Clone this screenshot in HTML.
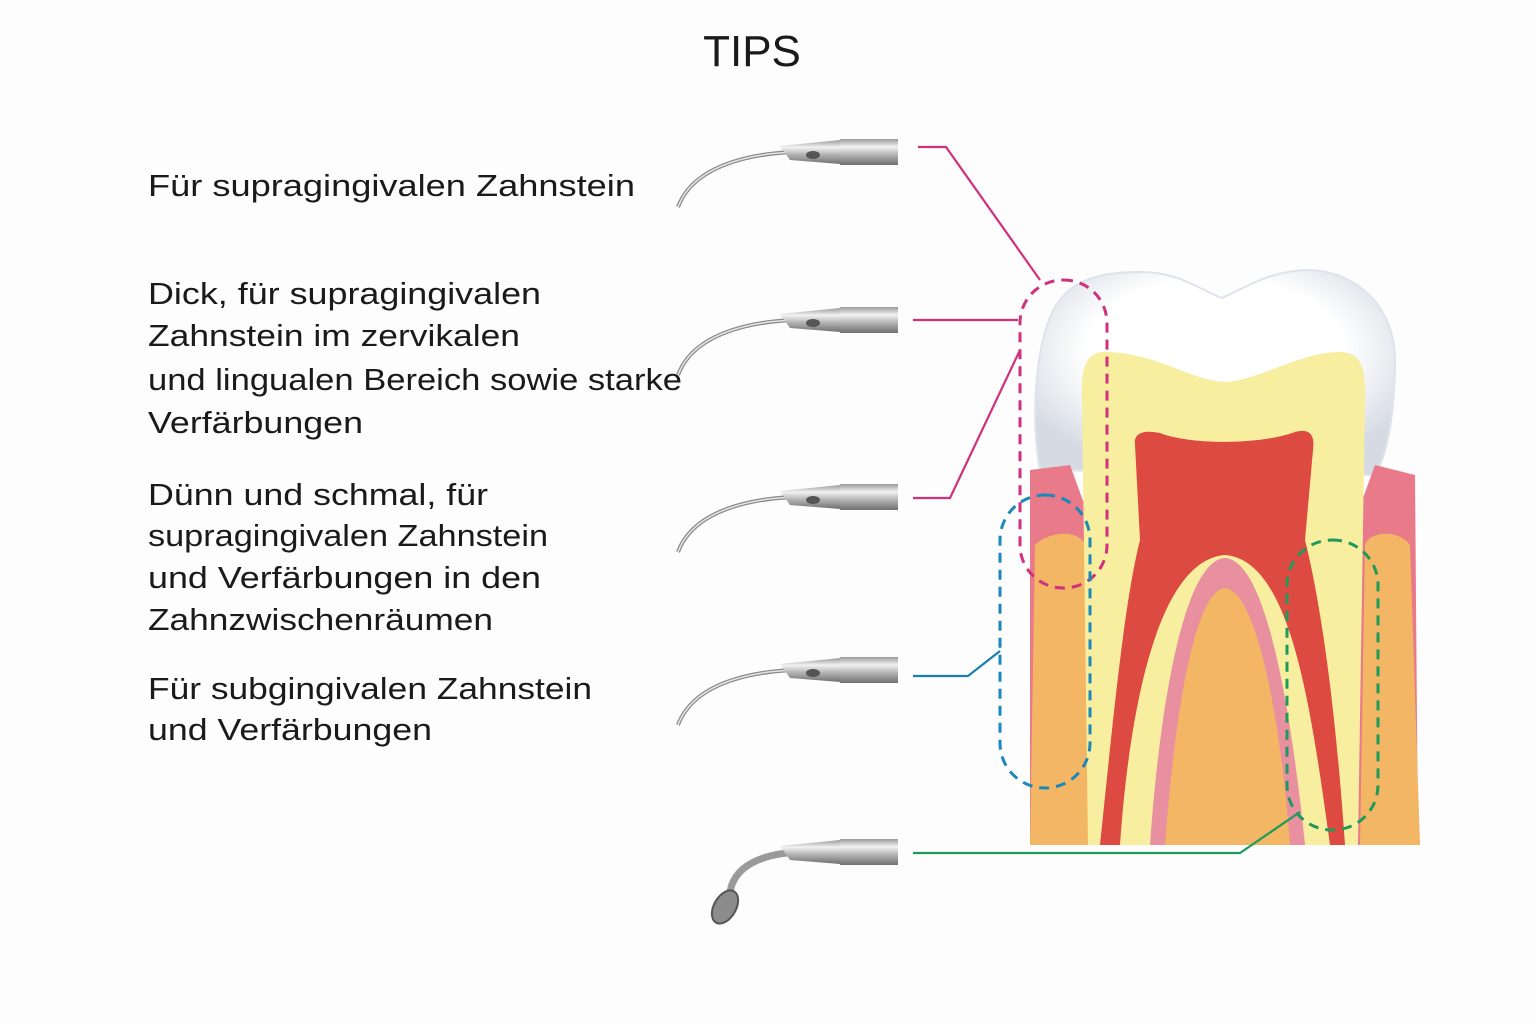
<!DOCTYPE html>
<html><head><meta charset="utf-8"><style>
html,body{margin:0;padding:0;background:#fdfdfd;}
svg{display:block}
text{font-family:"Liberation Sans",sans-serif;fill:#1a1a1a}
</style></head><body>
<svg width="1536" height="1024" viewBox="0 0 1536 1024" xmlns="http://www.w3.org/2000/svg">
<defs>
<linearGradient id="met" x1="0" y1="0" x2="0" y2="1">
<stop offset="0" stop-color="#9a9a9a"/><stop offset="0.3" stop-color="#f2f2f2"/><stop offset="0.6" stop-color="#b5b5b5"/><stop offset="1" stop-color="#707070"/></linearGradient>
<radialGradient id="enam" cx="0.5" cy="0.4" r="0.6"><stop offset="0.6" stop-color="#ffffff"/><stop offset="1" stop-color="#d5dae3"/></radialGradient>
<g id="tip">
<path d="M0,0 C-60,-2 -125,10 -142,55" fill="none" stroke="#8a8a8a" stroke-width="4"/>
<path d="M0,0 C-60,-2 -125,10 -142,55" fill="none" stroke="#e5e5e5" stroke-width="1.5"/>
<path d="M-40,-6 L20,-12 L20,12 L-30,8 Z" fill="url(#met)"/>
<ellipse cx="-7" cy="3" rx="7" ry="4" fill="#555"/>
<rect x="20" y="-13" width="58" height="26" fill="url(#met)"/>
</g>
</defs>
<rect width="1536" height="1024" fill="#fdfdfd"/>
<text x="752" y="66" font-size="44" text-anchor="middle">TIPS</text>
<g font-size="31" lengthAdjust="spacingAndGlyphs">
<text x="148" y="196" textLength="487" lengthAdjust="spacingAndGlyphs">Für supragingivalen Zahnstein</text>
<text x="148" y="304" textLength="393" lengthAdjust="spacingAndGlyphs">Dick, für supragingivalen</text>
<text x="148" y="346" textLength="372" lengthAdjust="spacingAndGlyphs">Zahnstein im zervikalen</text>
<text x="148" y="390" textLength="534" lengthAdjust="spacingAndGlyphs">und lingualen Bereich sowie starke</text>
<text x="148" y="433" textLength="215" lengthAdjust="spacingAndGlyphs">Verfärbungen</text>
<text x="148" y="505" textLength="340" lengthAdjust="spacingAndGlyphs">Dünn und schmal, für</text>
<text x="148" y="546" textLength="400" lengthAdjust="spacingAndGlyphs">supragingivalen Zahnstein</text>
<text x="148" y="588" textLength="393" lengthAdjust="spacingAndGlyphs">und Verfärbungen in den</text>
<text x="148" y="630" textLength="345" lengthAdjust="spacingAndGlyphs">Zahnzwischenräumen</text>
<text x="148" y="699" textLength="444" lengthAdjust="spacingAndGlyphs">Für subgingivalen Zahnstein</text>
<text x="148" y="740" textLength="284" lengthAdjust="spacingAndGlyphs">und Verfärbungen</text>
</g>
<use href="#tip" x="820" y="152"/>
<use href="#tip" x="820" y="320"/>
<use href="#tip" x="820" y="497"/>
<use href="#tip" x="820" y="670"/>
<g transform="translate(820,852)">
<path d="M0,0 C-50,-2 -85,10 -90,40" fill="none" stroke="#9a9a9a" stroke-width="7"/>
<path d="M-40,-6 L20,-12 L20,12 L-30,8 Z" fill="url(#met)"/>
<rect x="20" y="-13" width="58" height="26" fill="url(#met)"/>
<ellipse cx="-95" cy="55" rx="11" ry="18" transform="rotate(30 -95 55)" fill="#8c8c8c" stroke="#555" stroke-width="2"/>
</g>
<path d="M1040,470 C1030,420 1035,330 1060,300 C1075,280 1100,272 1140,272 C1180,272 1200,290 1222,298 C1245,288 1270,270 1310,270 C1360,272 1395,310 1395,360 C1395,420 1385,460 1375,475 Z" fill="url(#enam)" stroke="#dfe3ea" stroke-width="2"/>
<path d="M1030,470 L1070,465 L1090,520 L1092,845 L1030,845 Z" fill="#e87a8a"/>
<path d="M1415,475 L1375,465 L1355,520 L1358,845 L1418,845 Z" fill="#e87a8a"/>
<path d="M1035,545 C1050,530 1080,530 1085,545 L1090,845 L1030,845 Z" fill="#f2b664"/>
<path d="M1410,545 C1400,530 1370,530 1365,545 L1360,845 L1420,845 Z" fill="#f2b664"/>
<path d="M1088,845 L1082,400 C1080,360 1090,350 1110,352 C1160,355 1190,380 1225,382 C1260,380 1300,352 1340,352 C1360,353 1366,365 1365,400 L1358,845 Z" fill="#f7eea0"/>
<path d="M1100,845 C1115,700 1125,600 1140,540 L1135,445 C1133,432 1145,430 1160,433 C1190,445 1260,445 1295,432 C1310,428 1315,435 1313,450 L1305,540 C1320,600 1335,700 1345,845 L1330,845 C1310,700 1290,560 1225,555 C1160,560 1130,700 1120,845 Z" fill="#dd4a42"/>
<path d="M1150,845 C1160,700 1185,560 1225,558 C1265,560 1290,700 1305,845 Z" fill="#e88fa0"/>
<path d="M1165,845 C1175,710 1195,590 1225,588 C1255,590 1280,710 1290,845 Z" fill="#f2b664"/>
<rect x="1020" y="280" width="87" height="308" rx="43" fill="none" stroke="#d0307c" stroke-width="3" stroke-dasharray="10,7"/>
<rect x="1000" y="495" width="90" height="293" rx="45" fill="none" stroke="#1a88b8" stroke-width="3" stroke-dasharray="10,7"/>
<rect x="1287" y="540" width="91" height="290" rx="45" fill="none" stroke="#1e9a5a" stroke-width="3" stroke-dasharray="10,7"/>
<g fill="none" stroke-width="2.2">
<polyline points="918,147 946,147 1040,280" stroke="#d0307c"/>
<polyline points="913,320 1018,320" stroke="#d0307c"/>
<polyline points="913,498 950,498 1020,350" stroke="#d0307c"/>
<polyline points="913,676 968,676 1000,651" stroke="#1a7fb5"/>
<polyline points="913,853 1240,853 1300,812" stroke="#1e9a5a"/>
</g>
</svg>
</body></html>
